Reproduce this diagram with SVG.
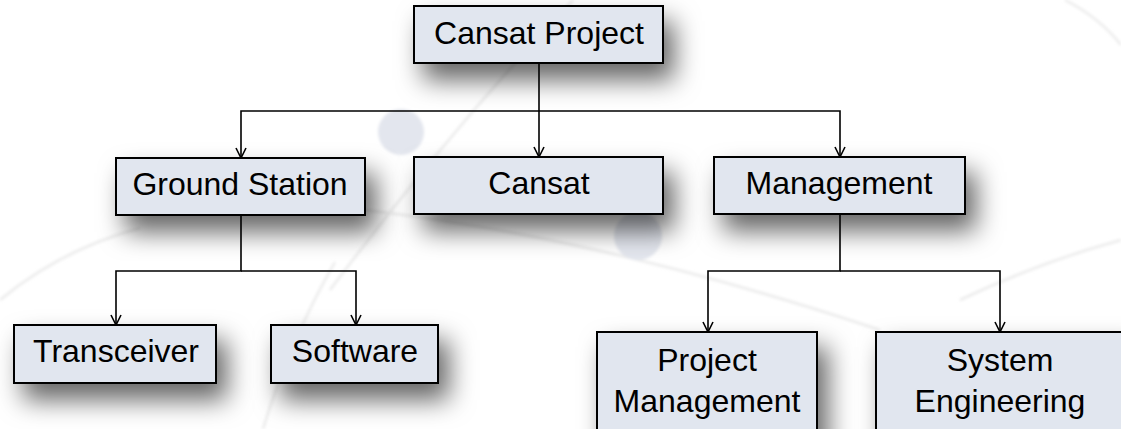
<svg xmlns="http://www.w3.org/2000/svg" width="1121" height="429" viewBox="0 0 1121 429">
  <defs>
    <filter id="shadow" x="-30%" y="-40%" width="180%" height="220%">
      <feDropShadow dx="10" dy="16" stdDeviation="13" flood-color="#000" flood-opacity="0.6"/>
    </filter>
    <filter id="soft" x="-20%" y="-20%" width="140%" height="140%">
      <feGaussianBlur stdDeviation="1.5"/>
    </filter>
    <marker id="arr" viewBox="0 0 12 12" refX="11" refY="6" markerWidth="12" markerHeight="12" markerUnits="userSpaceOnUse" orient="auto">
      <path d="M1,1 L11,6 L1,11" fill="none" stroke="#000" stroke-width="1.6"/>
    </marker>
  </defs>
  <style>
    .box { fill: #e1e6ef; stroke: #000; stroke-width: 2; filter: url(#shadow); }
    .lbl { font-family: "Liberation Sans", Arial, sans-serif; font-size: 32px; fill: #000; text-anchor: middle; }
    .conn { fill: none; stroke: #000; stroke-width: 1.6; marker-end: url(#arr); }
    .deco { fill: none; stroke: #ebebeb; stroke-width: 2.5; }
  </style>

  <rect width="1121" height="429" fill="#fff"/>

  <g id="background" filter="url(#soft)">
    <path class="deco" d="M0,300 Q60,250 140,228"/>
    <path class="deco" d="M263,429 Q290,340 335,262"/>
    <path class="deco" d="M573,0 Q450,130 330,290"/>
    <path class="deco" d="M230,200 Q520,210 880,330"/>
    <path class="deco" d="M960,300 Q1040,262 1121,240"/>
    <path class="deco" d="M1065,0 Q1100,18 1121,45"/>
    <circle cx="401" cy="132" r="23" fill="#e3e6ee"/>
    <circle cx="638" cy="236" r="24" fill="#e3e6ee"/>
  </g>

  <g id="connectors">
    <path class="conn" d="M539,63 V157"/>
    <path class="conn" d="M539,111 H241 V158"/>
    <path class="conn" d="M539,111 H840 V157"/>
    <path class="conn" d="M241,215 V271 H116 V325"/>
    <path class="conn" d="M241,271 H356 V325"/>
    <path class="conn" d="M840,214 V271 H708 V332"/>
    <path class="conn" d="M840,271 H1000 V332"/>
  </g>

  <g id="node-cansat-project">
    <rect class="box" x="414" y="6" width="249" height="57"/>
    <text class="lbl" x="539" y="44">Cansat Project</text>
  </g>
  <g id="node-ground-station">
    <rect class="box" x="116" y="158" width="249" height="57"/>
    <text class="lbl" x="240" y="195">Ground Station</text>
  </g>
  <g id="node-cansat">
    <rect class="box" x="414" y="157" width="249" height="57"/>
    <text class="lbl" x="539" y="194">Cansat</text>
  </g>
  <g id="node-management">
    <rect class="box" x="714" y="157" width="251" height="57"/>
    <text class="lbl" x="839" y="194">Management</text>
  </g>
  <g id="node-transceiver">
    <rect class="box" x="14" y="325" width="202" height="58"/>
    <text class="lbl" x="116" y="362">Transceiver</text>
  </g>
  <g id="node-software">
    <rect class="box" x="271" y="325" width="167" height="58"/>
    <text class="lbl" x="355" y="362">Software</text>
  </g>
  <g id="node-project-management">
    <rect class="box" x="597" y="332" width="220" height="110"/>
    <text class="lbl" x="707" y="371">Project</text>
    <text class="lbl" x="707" y="412">Management</text>
  </g>
  <g id="node-system-engineering">
    <rect class="box" x="876" y="332" width="250" height="110"/>
    <text class="lbl" x="1000" y="371">System</text>
    <text class="lbl" x="1000" y="412">Engineering</text>
  </g>
</svg>
